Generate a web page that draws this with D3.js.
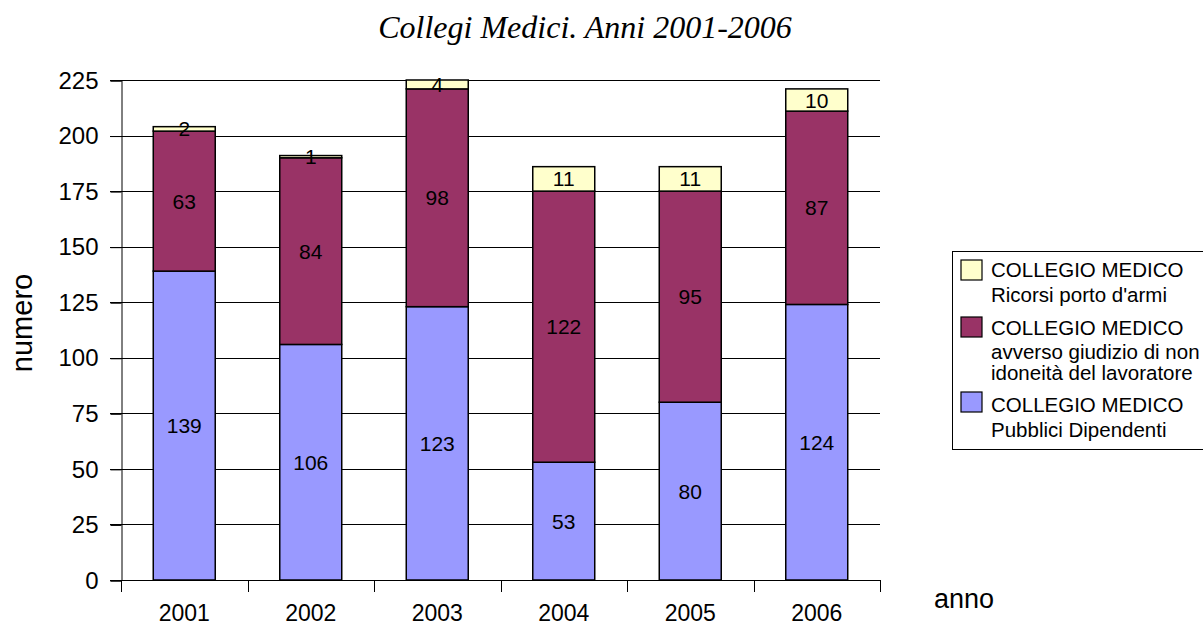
<!DOCTYPE html>
<html>
<head>
<meta charset="utf-8">
<script src="https://cdn.jsdelivr.net/npm/d3@7"></script>
<style>
  body { margin: 0; background: #fff; }
  svg { display: block; }
</style>
</head>
<body>
<div id="chart"></div>
<script>
// Data
var years = ['2001', '2002', '2003', '2004', '2005', '2006'];
var pubblici = [139, 106, 123, 53, 80, 124];
var avverso = [63, 84, 98, 122, 95, 87];
var ricorsi = [2, 1, 4, 11, 11, 10];
var yTicks = [0, 25, 50, 75, 100, 125, 150, 175, 200, 225];

var seriesKeys = ['pubblici', 'avverso', 'ricorsi'];
var seriesColors = { pubblici: '#9999ff', avverso: '#993366', ricorsi: '#ffffcc' };
var legendItems = [
  { key: 'ricorsi', lines: ['COLLEGIO MEDICO', 'Ricorsi porto d\'armi'] },
  { key: 'avverso', lines: ['COLLEGIO MEDICO', 'avverso giudizio di non', 'idoneità del lavoratore'] },
  { key: 'pubblici', lines: ['COLLEGIO MEDICO', 'Pubblici Dipendenti'] }
];

var table = years.map((y, i) => ({ year: y, pubblici: pubblici[i], avverso: avverso[i], ricorsi: ricorsi[i] }));

var chartWidth = 1203, chartHeight = 625;
var plotLeft = 121, plotRight = 880, plotTop = 80, plotBottom = 580;
var sans = '"Liberation Sans", Arial, sans-serif';

var svg = d3.select('#chart').append('svg')
  .attr('width', chartWidth)
  .attr('height', chartHeight);

// Scales
const xScale = d3.scaleBand()
  .domain(years)
  .range([plotLeft, plotRight])
  .padding(0);

const yScale = d3.scaleLinear()
  .domain([0, 225])
  .range([plotBottom, plotTop]);

var barW = xScale.bandwidth() * 0.49;

// Title
svg.append('text')
  .attr('x', 585)
  .attr('y', 38)
  .attr('text-anchor', 'middle')
  .style('font-family', '"Liberation Serif", "Times New Roman", serif')
  .style('font-style', 'italic')
  .style('font-size', '32px')
  .text('Collegi Medici. Anni 2001-2006');

// Gridlines
svg.append('g')
  .selectAll('line')
  .data(yTicks)
  .enter()
  .append('line')
  .attr('x1', plotLeft - 11)
  .attr('x2', plotRight)
  .attr('y1', d => Math.round(yScale(d)) + 0.5)
  .attr('y2', d => Math.round(yScale(d)) + 0.5)
  .attr('stroke', '#000')
  .attr('stroke-width', 1);

// Y axis
const yAxis = d3.axisLeft(yScale)
  .tickValues(yTicks)
  .tickSize(11)
  .tickPadding(12);

svg.append('g')
  .attr('transform', `translate(${plotLeft + 0.5},0.5)`)
  .call(yAxis)
  .call(g => g.selectAll('text')
    .style('font-family', sans)
    .style('font-size', '24px')
    .attr('fill', '#000'));

// Stacked bars
const stack = d3.stack().keys(seriesKeys);
const stackData = stack(table);

const groups = svg.selectAll('g.series')
  .data(stackData)
  .enter()
  .append('g')
  .attr('class', 'series')
  .style('fill', d => seriesColors[d.key]);

groups.selectAll('rect')
  .data(d => d)
  .enter()
  .append('rect')
  .attr('x', d => xScale(d.data.year) + (xScale.bandwidth() - barW) / 2)
  .attr('y', d => yScale(d[1]))
  .attr('height', d => yScale(d[0]) - yScale(d[1]))
  .attr('width', barW)
  .attr('stroke', '#000')
  .attr('stroke-width', 1.5);

// Value labels
groups.selectAll('text')
  .data(d => d.map(v => ({ v: v, key: d.key })))
  .enter()
  .append('text')
  .attr('x', d => xScale(d.v.data.year) + xScale.bandwidth() / 2)
  .attr('y', d => (yScale(d.v[0]) + yScale(d.v[1])) / 2)
  .attr('dy', '0.36em')
  .attr('text-anchor', 'middle')
  .style('fill', '#000')
  .style('font-family', sans)
  .style('font-size', '21px')
  .text(d => d.v.data[d.key]);

// X axis
const xAxis = svg.append('g');
xAxis.append('line')
  .attr('x1', plotLeft)
  .attr('x2', plotRight)
  .attr('y1', plotBottom + 0.5)
  .attr('y2', plotBottom + 0.5)
  .attr('stroke', '#000');
xAxis.selectAll('line.tick')
  .data(years.concat(['end']))
  .enter()
  .append('line')
  .attr('class', 'tick')
  .attr('x1', (d, i) => Math.round(plotLeft + i * xScale.bandwidth()) + 0.5)
  .attr('x2', (d, i) => Math.round(plotLeft + i * xScale.bandwidth()) + 0.5)
  .attr('y1', plotBottom)
  .attr('y2', plotBottom + 12)
  .attr('stroke', '#000');
xAxis.selectAll('text')
  .data(years)
  .enter()
  .append('text')
  .attr('x', d => xScale(d) + xScale.bandwidth() / 2)
  .attr('y', 621)
  .attr('text-anchor', 'middle')
  .style('font-family', sans)
  .style('font-size', '23px')
  .text(d => d);

// Axis titles
svg.append('text')
  .attr('transform', 'translate(32,323) rotate(-90)')
  .attr('text-anchor', 'middle')
  .style('font-family', sans)
  .style('font-size', '29px')
  .text('numero');

svg.append('text')
  .attr('x', 934)
  .attr('y', 608)
  .style('font-family', sans)
  .style('font-size', '27px')
  .text('anno');

// Legend
const legend = svg.append('g');
legend.append('rect')
  .attr('x', 952.5)
  .attr('y', 251.5)
  .attr('width', 260)
  .attr('height', 198)
  .attr('fill', '#fff')
  .attr('stroke', '#000')
  .attr('stroke-width', 1);

var swatchY = [260, 317, 392];
var lineY = [[277, 302], [335, 359, 380], [412, 437]];

legendItems.forEach((item, i) => {
  legend.append('rect')
    .attr('x', 961)
    .attr('y', swatchY[i])
    .attr('width', 21)
    .attr('height', 20)
    .attr('fill', seriesColors[item.key])
    .attr('stroke', '#000')
    .attr('stroke-width', 1.2);
  item.lines.forEach((t, j) => {
    legend.append('text')
      .attr('x', 991)
      .attr('y', lineY[i][j])
      .style('font-family', sans)
      .style('font-size', '20.5px')
      .text(t);
  });
});
</script>
</body>
</html>
